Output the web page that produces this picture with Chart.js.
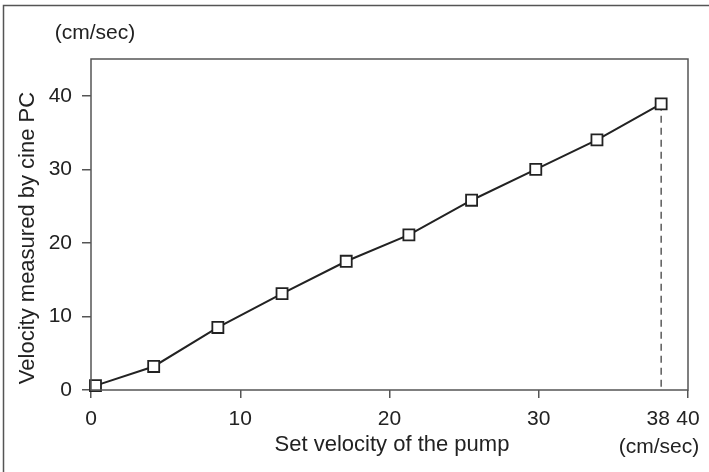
<!DOCTYPE html>
<html lang="en">
<head>
<meta charset="UTF-8">
<title>Velocity</title>
<script src="https://cdn.jsdelivr.net/npm/chart.js"></script>
<style>
body{margin:0;background:#fff;}
</style>
</head>
<body>
<canvas id="myChart" width="709" height="472"></canvas>
<script>
// set velocity of the pump (x) vs velocity measured by cine PC (y), cm/sec
const setVel = [0.3, 4.2, 8.5, 12.8, 17.1, 21.3, 25.5, 29.8, 33.9, 38.2];
const measVel = [0.6, 3.2, 8.5, 13.1, 17.5, 21.1, 25.8, 30.0, 34.0, 38.9];
const xTicks = [0, 10, 20, 30, 38, 40];
const yTicks = [0, 10, 20, 30, 40];

const FONT = '"Liberation Sans", Arial, sans-serif';
const INK = '#222';

let pts = setVel.map((v, i) => ({x: v, y: measVel[i]}));
let last = pts[pts.length - 1];
let drop = [{x: last.x, y: last.y}, {x: last.x, y: 0}];

const decor = {
  id: 'decor',
  beforeDraw(chart) {
    const c = chart.ctx;
    c.save();
    c.fillStyle = '#fff';
    c.fillRect(0, 0, chart.width, chart.height);
    // outer frame
    c.strokeStyle = '#555';
    c.lineWidth = 1.5;
    c.beginPath();
    c.moveTo(3.5, 472);
    c.lineTo(3.5, 5.5);
    c.lineTo(709, 5.5);
    c.stroke();
    c.restore();
  },
  afterDraw(chart) {
    const c = chart.ctx, a = chart.chartArea;
    c.save();
    c.strokeStyle = '#555';
    c.lineWidth = 1.5;
    c.strokeRect(a.left, a.top, a.right - a.left, a.bottom - a.top);
    c.fillStyle = INK;
    c.font = '22px ' + FONT;
    c.textAlign = 'center';
    c.textBaseline = 'middle';
    c.fillText('Set velocity of the pump', 392, 445);
    c.font = '21px ' + FONT;
    c.fillText('(cm/sec)', 95, 33);
    c.fillText('(cm/sec)', 659, 447);
    c.translate(28, 238);
    c.rotate(-Math.PI / 2);
    c.font = '22px ' + FONT;
    c.fillText('Velocity measured by cine PC', 0, 0);
    c.restore();
  }
};

new Chart(document.getElementById('myChart'), {
  type: 'scatter',
  data: {
    datasets: [{
      data: pts,
      showLine: true,
      borderColor: INK,
      borderWidth: 2,
      pointStyle: 'rect',
      pointRadius: 7.8,
      pointHoverRadius: 7.8,
      pointBorderWidth: 1.8,
      pointBorderColor: INK,
      pointBackgroundColor: '#fff',
      clip: false,
      order: 0
    }, {
      data: drop,
      showLine: true,
      borderColor: '#333',
      borderWidth: 1.2,
      borderDash: [7, 5],
      pointRadius: 0,
      order: 1
    }]
  },
  options: {
    responsive: false,
    animation: false,
    layout: {padding: {left: 0, top: 59, right: 21, bottom: 0}},
    plugins: {legend: {display: false}, tooltip: {enabled: false}},
    scales: {
      x: {
        type: 'linear', min: 0, max: 40,
        afterBuildTicks: s => { s.ticks = xTicks.map(v => ({value: v})); },
        afterFit: s => { s.height = 82; },
        border: {display: false},
        grid: {
          drawOnChartArea: false, drawTicks: true, tickLength: 8, lineWidth: 1.5,
          tickColor: ctx => (ctx.tick && ctx.tick.value === 38) ? 'rgba(0,0,0,0)' : '#555'
        },
        ticks: {autoSkip: false, maxRotation: 0, padding: 9, color: INK, font: {family: FONT, size: 21}}
      },
      y: {
        type: 'linear', min: 0, max: 45,
        afterBuildTicks: s => { s.ticks = yTicks.map(v => ({value: v})); },
        afterFit: s => { s.width = 91; },
        border: {display: false},
        grid: {drawOnChartArea: false, drawTicks: true, tickLength: 9, lineWidth: 1.5, tickColor: '#555'},
        ticks: {padding: 10, color: INK, font: {family: FONT, size: 21}}
      }
    }
  },
  plugins: [decor]
});
</script>
</body>
</html>
